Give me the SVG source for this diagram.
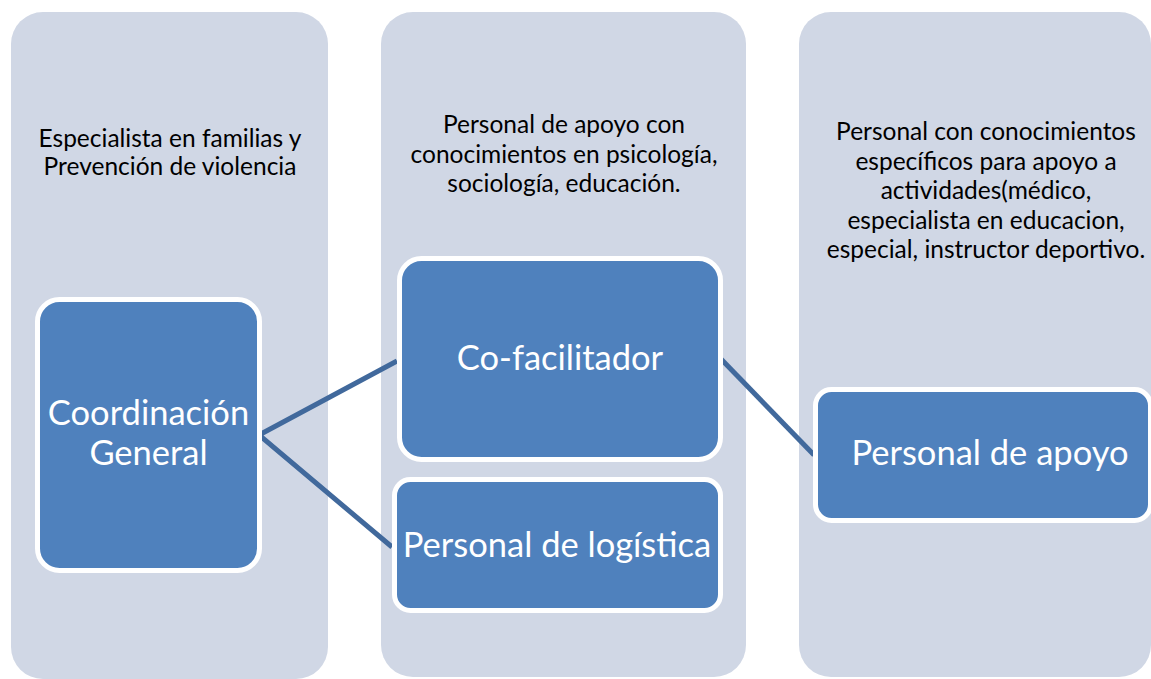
<svg xmlns="http://www.w3.org/2000/svg" width="1151" height="679" viewBox="0 0 1151 679">
<style>
.col{fill:#D0D7E5}
.hd{font-family:Lato,"Open Sans","Liberation Sans",sans-serif;font-size:24.5px;fill:#000;text-anchor:middle}
.nd{fill:#4F81BD;stroke:#FFFFFF;stroke-width:5}
.nt{font-family:Lato,"Open Sans","Liberation Sans",sans-serif;font-size:34.5px;fill:#FFFFFF;text-anchor:middle}
.cn{stroke:#41699C;stroke-width:5;fill:none}
</style>
<rect width="1151" height="679" fill="#FFFFFF"/>
<g id="col1">
<rect class="col" x="11" y="12" width="317" height="667" rx="32"/>
<text class="hd" x="170" y="147">Especialista en familias y</text>
<text class="hd" x="170" y="175">Prevención de violencia</text>
</g>
<g id="col2">
<rect class="col" x="381" y="12" width="365" height="665" rx="32"/>
<text class="hd" x="564" y="133">Personal de apoyo con</text>
<text class="hd" x="564" y="162.5">conocimientos en psicología,</text>
<text class="hd" x="564" y="192">sociología, educación.</text>
</g>
<g id="col3">
<rect class="col" x="799" y="12" width="352" height="665" rx="32"/>
<text class="hd" x="986" y="140">Personal con conocimientos</text>
<text class="hd" x="986" y="169.5">específicos para apoyo a</text>
<text class="hd" x="986" y="199">actividades(médico,</text>
<text class="hd" x="986" y="228.5">especialista en educacion,</text>
<text class="hd" x="986" y="258">especial, instructor deportivo.</text>
</g>
<g id="connectors">
<polyline class="cn" points="397,361 259,435 392,547"/>
<line class="cn" x1="721" y1="359" x2="814" y2="455"/>
</g>
<g id="coordinacion">
<rect class="nd" x="37.5" y="299.5" width="222" height="271" rx="22"/>
<text class="nt" x="148.5" y="425">Coordinación</text>
<text class="nt" x="148.5" y="465">General</text>
</g>
<g id="cofacilitador">
<rect class="nd" x="399.5" y="258.5" width="321" height="201" rx="22"/>
<text class="nt" x="560" y="370">Co-facilitador</text>
</g>
<g id="logistica">
<rect class="nd" x="394.5" y="479.5" width="326" height="131" rx="16"/>
<text class="nt" x="557" y="557">Personal de logística</text>
</g>
<g id="apoyo">
<rect class="nd" x="815.5" y="389.5" width="335" height="131" rx="16"/>
<text class="nt" x="990" y="465">Personal de apoyo</text>
</g>
</svg>
